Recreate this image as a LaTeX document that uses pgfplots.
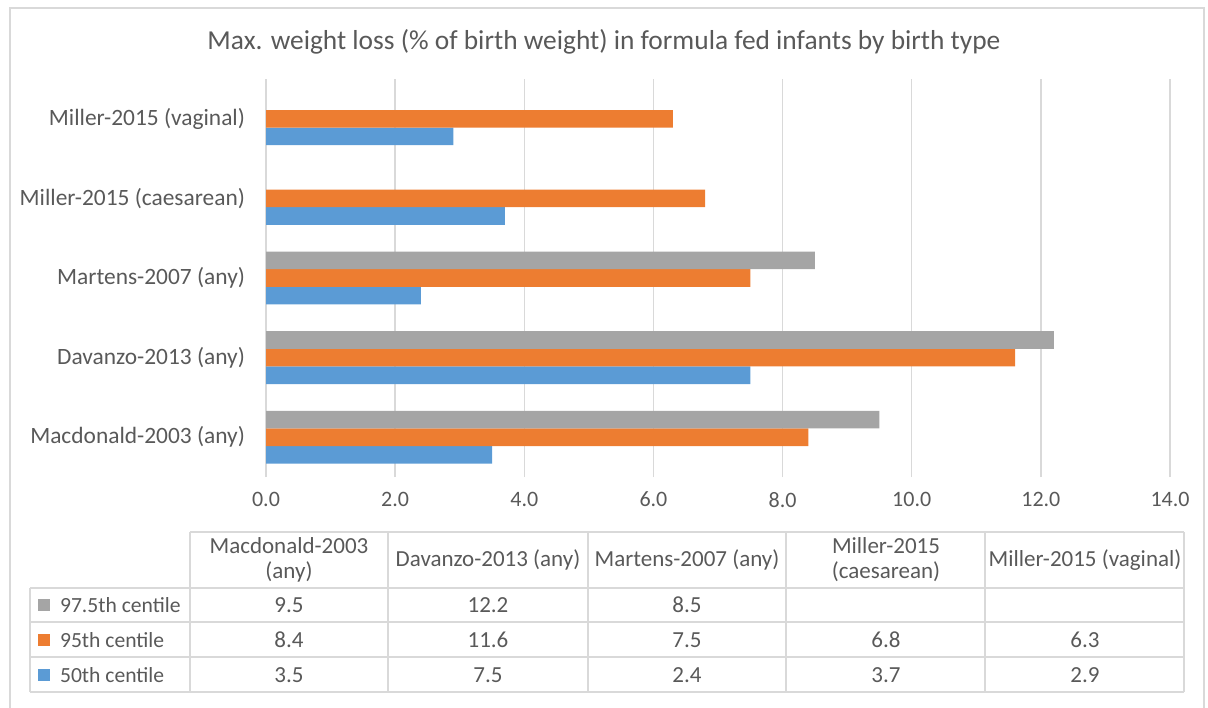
\documentclass[border=0pt]{standalone}
\usepackage{pgfplots}
\pgfplotsset{compat=1.18}
\usepackage{fontspec}
\setmainfont{Carlito}
\definecolor{c50}{HTML}{5B9BD5}
\definecolor{c95}{HTML}{ED7D31}
\definecolor{c975}{HTML}{A5A5A5}
\definecolor{gridc}{HTML}{D9D9D9}
\definecolor{txt}{HTML}{595959}

\begin{document}
\begin{tikzpicture}[font=\fontsize{11.5}{12.5}\selectfont, text=txt]
% pixel-like coordinates, 1 px = 0.5pt, y downwards
\begin{scope}[x=0.5pt,y=-0.5pt]
\useasboundingbox (0,0) rectangle (1208,707);
\draw[gridc, line width=0.75pt] (10,720) -- (10,8) -- (1204,8) -- (1204,720);
\node[font=\fontsize{13.7}{16}\selectfont] at (604,42)
  {Max. weight loss (\% of birth weight) in formula fed infants by birth type};

% data table under the axis
\draw[gridc, line width=0.75pt] (190,532) -- (1184,532);
\foreach \yy in {588,622,657,692} \draw[gridc, line width=0.75pt] (30,\yy) -- (1184,\yy);
\draw[gridc, line width=0.75pt] (30,588) -- (30,692);
\foreach \xx in {190,388,588,786,985,1184} \draw[gridc, line width=0.75pt] (\xx,532) -- (\xx,692);

\node[align=center] at (289,560) {Macdonald-2003\\(any)};
\node at (488,560) {Davanzo-2013 (any)};
\node at (687,560) {Martens-2007 (any)};
\node[align=center] at (886,560) {Miller-2015\\(caesarean)};
\node at (1085,560) {Miller-2015 (vaginal)};

\begin{scope}[font=\fontsize{10.8}{12.5}\selectfont]
\fill[c975] (38,599) rectangle (50,611);
\node[anchor=west] at (53,605) {97.5th centile};
\fill[c95] (38,634) rectangle (50,646);
\node[anchor=west] at (53,640) {95th centile};
\fill[c50] (38,669) rectangle (50,681);
\node[anchor=west] at (53,675) {50th centile};
\end{scope}

\foreach \xx/\v in {289/9.5,488/12.2,687/8.5} \node at (\xx,605) {\v};
\foreach \xx/\v in {289/8.4,488/11.6,687/7.5,886/6.8,1085/6.3} \node at (\xx,640) {\v};
\foreach \xx/\v in {289/3.5,488/7.5,687/2.4,886/3.7,1085/2.9} \node at (\xx,675) {\v};
\end{scope}

\begin{axis}[
  at={(133pt,-238.5pt)}, anchor=south west,
  scale only axis, width=452pt, height=199pt,
  xbar=0pt, bar width=8.8pt,
  xmin=0, xmax=14, ymin=-0.5, ymax=4.5,
  xtick={0,2,...,14},
  ytick={0,1,2,3,4},
  yticklabels={Macdonald-2003 (any), Davanzo-2013 (any), Martens-2007 (any),
    Miller-2015 (caesarean), Miller-2015 (vaginal)},
  xticklabel={\pgfmathprintnumber[fixed,fixed zerofill,precision=1]{\tick}},
  /pgf/number format/assume math mode=true,
  tick label style={text=txt},
  yticklabel style={xshift=-7pt, font=\fontsize{11.7}{13}\selectfont},
  xticklabel style={yshift=-4pt, font=\fontsize{11}{13}\selectfont},
  major tick length=0pt,
  xmajorgrids,
  grid style={gridc, line width=0.75pt},
  axis line style={draw=none},
]
\addplot[draw=none, fill=c50] coordinates {(3.5,0) (7.5,1) (2.4,2) (3.7,3) (2.9,4)};
\addplot[draw=none, fill=c95] coordinates {(8.4,0) (11.6,1) (7.5,2) (6.8,3) (6.3,4)};
\addplot[draw=none, fill=c975] coordinates {(9.5,0) (12.2,1) (8.5,2)};
\end{axis}
\end{tikzpicture}
\end{document}
